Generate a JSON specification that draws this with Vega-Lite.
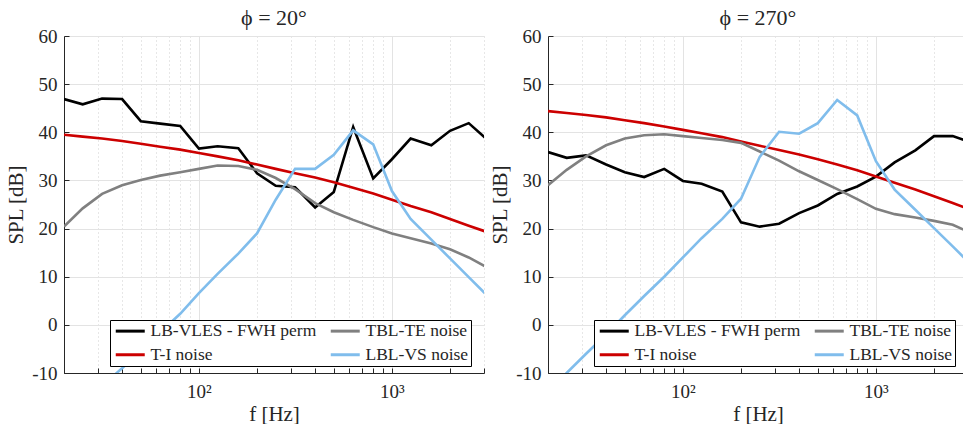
{
  "$schema": "https://vega.github.io/schema/vega-lite/v6.json",
  "background": "white",
  "padding": {"left": 5, "top": 7, "right": 0, "bottom": 0},
  "config": {
    "font": "Liberation Serif",
    "view": {"stroke": null},
    "concat": {"spacing": 64},
    "title": {"font": "Liberation Serif", "fontSize": 22, "fontWeight": "normal", "color": "#262626", "offset": -3, "frame": "group"},
    "axis": {
      "labelFont": "Liberation Serif", "labelFontSize": 19, "labelColor": "#262626",
      "titleFont": "Liberation Serif", "titleFontSize": 21, "titleFontWeight": "normal", "titleColor": "#262626",
      "domainColor": "#262626", "domainWidth": 1, "tickColor": "#262626", "tickSize": -5, "tickWidth": 1,
      "gridColor": "#e3e3e3", "gridWidth": 1
    },
    "legend": {
      "orient": "none", "legendX": 46, "legendY": 284, "columns": 2,
      "strokeColor": "#000000", "fillColor": "#ffffff", "padding": 2,
      "symbolType": "M-1,0H4.8", "symbolSize": 100, "symbolStrokeWidth": 3,
      "labelFont": "Liberation Serif", "labelFontSize": 17.5, "labelColor": "#262626", "labelLimit": 0,
      "labelOffset": 21, "rowPadding": 5, "columnPadding": 7, "title": null
    }
  },
  "datasets": {
    "d": [
      {"phi": 20, "s": "LB-VLES - FWH perm", "f": 20, "v": 46.9},
      {"phi": 20, "s": "LB-VLES - FWH perm", "f": 25, "v": 45.8},
      {"phi": 20, "s": "LB-VLES - FWH perm", "f": 31.5, "v": 47.0},
      {"phi": 20, "s": "LB-VLES - FWH perm", "f": 40, "v": 46.9},
      {"phi": 20, "s": "LB-VLES - FWH perm", "f": 50, "v": 42.3},
      {"phi": 20, "s": "LB-VLES - FWH perm", "f": 63, "v": 41.8},
      {"phi": 20, "s": "LB-VLES - FWH perm", "f": 80, "v": 41.3},
      {"phi": 20, "s": "LB-VLES - FWH perm", "f": 100, "v": 36.6},
      {"phi": 20, "s": "LB-VLES - FWH perm", "f": 125, "v": 37.1},
      {"phi": 20, "s": "LB-VLES - FWH perm", "f": 160, "v": 36.7},
      {"phi": 20, "s": "LB-VLES - FWH perm", "f": 200, "v": 31.5},
      {"phi": 20, "s": "LB-VLES - FWH perm", "f": 250, "v": 28.9},
      {"phi": 20, "s": "LB-VLES - FWH perm", "f": 315, "v": 28.6},
      {"phi": 20, "s": "LB-VLES - FWH perm", "f": 400, "v": 24.4},
      {"phi": 20, "s": "LB-VLES - FWH perm", "f": 500, "v": 27.6},
      {"phi": 20, "s": "LB-VLES - FWH perm", "f": 630, "v": 41.1},
      {"phi": 20, "s": "LB-VLES - FWH perm", "f": 800, "v": 30.4},
      {"phi": 20, "s": "LB-VLES - FWH perm", "f": 1000, "v": 34.4},
      {"phi": 20, "s": "LB-VLES - FWH perm", "f": 1250, "v": 38.7},
      {"phi": 20, "s": "LB-VLES - FWH perm", "f": 1600, "v": 37.3},
      {"phi": 20, "s": "LB-VLES - FWH perm", "f": 2000, "v": 40.3},
      {"phi": 20, "s": "LB-VLES - FWH perm", "f": 2500, "v": 41.9},
      {"phi": 20, "s": "LB-VLES - FWH perm", "f": 3150, "v": 38.3},
      {"phi": 20, "s": "T-I noise", "f": 20, "v": 39.5},
      {"phi": 20, "s": "T-I noise", "f": 25, "v": 39.1},
      {"phi": 20, "s": "T-I noise", "f": 31.5, "v": 38.7},
      {"phi": 20, "s": "T-I noise", "f": 40, "v": 38.2},
      {"phi": 20, "s": "T-I noise", "f": 50, "v": 37.6},
      {"phi": 20, "s": "T-I noise", "f": 63, "v": 37.0},
      {"phi": 20, "s": "T-I noise", "f": 80, "v": 36.4},
      {"phi": 20, "s": "T-I noise", "f": 100, "v": 35.7},
      {"phi": 20, "s": "T-I noise", "f": 125, "v": 35.0},
      {"phi": 20, "s": "T-I noise", "f": 160, "v": 34.2},
      {"phi": 20, "s": "T-I noise", "f": 200, "v": 33.3},
      {"phi": 20, "s": "T-I noise", "f": 250, "v": 32.4},
      {"phi": 20, "s": "T-I noise", "f": 315, "v": 31.5},
      {"phi": 20, "s": "T-I noise", "f": 400, "v": 30.6},
      {"phi": 20, "s": "T-I noise", "f": 500, "v": 29.6},
      {"phi": 20, "s": "T-I noise", "f": 630, "v": 28.5},
      {"phi": 20, "s": "T-I noise", "f": 800, "v": 27.3},
      {"phi": 20, "s": "T-I noise", "f": 1000, "v": 26.0},
      {"phi": 20, "s": "T-I noise", "f": 1250, "v": 24.7},
      {"phi": 20, "s": "T-I noise", "f": 1600, "v": 23.4},
      {"phi": 20, "s": "T-I noise", "f": 2000, "v": 22.0},
      {"phi": 20, "s": "T-I noise", "f": 2500, "v": 20.6},
      {"phi": 20, "s": "T-I noise", "f": 3150, "v": 19.2},
      {"phi": 20, "s": "TBL-TE noise", "f": 20, "v": 20.4},
      {"phi": 20, "s": "TBL-TE noise", "f": 25, "v": 24.2},
      {"phi": 20, "s": "TBL-TE noise", "f": 31.5, "v": 27.2},
      {"phi": 20, "s": "TBL-TE noise", "f": 40, "v": 29.0},
      {"phi": 20, "s": "TBL-TE noise", "f": 50, "v": 30.1},
      {"phi": 20, "s": "TBL-TE noise", "f": 63, "v": 31.0},
      {"phi": 20, "s": "TBL-TE noise", "f": 80, "v": 31.7},
      {"phi": 20, "s": "TBL-TE noise", "f": 100, "v": 32.4},
      {"phi": 20, "s": "TBL-TE noise", "f": 125, "v": 33.1},
      {"phi": 20, "s": "TBL-TE noise", "f": 160, "v": 33.0},
      {"phi": 20, "s": "TBL-TE noise", "f": 200, "v": 32.2},
      {"phi": 20, "s": "TBL-TE noise", "f": 250, "v": 30.5},
      {"phi": 20, "s": "TBL-TE noise", "f": 315, "v": 28.2},
      {"phi": 20, "s": "TBL-TE noise", "f": 400, "v": 25.3},
      {"phi": 20, "s": "TBL-TE noise", "f": 500, "v": 23.4},
      {"phi": 20, "s": "TBL-TE noise", "f": 630, "v": 21.8},
      {"phi": 20, "s": "TBL-TE noise", "f": 800, "v": 20.3},
      {"phi": 20, "s": "TBL-TE noise", "f": 1000, "v": 19.0},
      {"phi": 20, "s": "TBL-TE noise", "f": 1250, "v": 18.0},
      {"phi": 20, "s": "TBL-TE noise", "f": 1600, "v": 16.9},
      {"phi": 20, "s": "TBL-TE noise", "f": 2000, "v": 15.7},
      {"phi": 20, "s": "TBL-TE noise", "f": 2500, "v": 14.0},
      {"phi": 20, "s": "TBL-TE noise", "f": 3150, "v": 11.8},
      {"phi": 20, "s": "LBL-VS noise", "f": 20, "v": -20.0},
      {"phi": 20, "s": "LBL-VS noise", "f": 25, "v": -16.4},
      {"phi": 20, "s": "LBL-VS noise", "f": 31.5, "v": -12.7},
      {"phi": 20, "s": "LBL-VS noise", "f": 40, "v": -9.0},
      {"phi": 20, "s": "LBL-VS noise", "f": 50, "v": -5.3},
      {"phi": 20, "s": "LBL-VS noise", "f": 63, "v": -1.6},
      {"phi": 20, "s": "LBL-VS noise", "f": 80, "v": 2.3},
      {"phi": 20, "s": "LBL-VS noise", "f": 100, "v": 6.6},
      {"phi": 20, "s": "LBL-VS noise", "f": 125, "v": 10.6},
      {"phi": 20, "s": "LBL-VS noise", "f": 160, "v": 14.8},
      {"phi": 20, "s": "LBL-VS noise", "f": 200, "v": 19.0},
      {"phi": 20, "s": "LBL-VS noise", "f": 250, "v": 26.0},
      {"phi": 20, "s": "LBL-VS noise", "f": 315, "v": 32.4},
      {"phi": 20, "s": "LBL-VS noise", "f": 400, "v": 32.4},
      {"phi": 20, "s": "LBL-VS noise", "f": 500, "v": 35.3},
      {"phi": 20, "s": "LBL-VS noise", "f": 630, "v": 40.4},
      {"phi": 20, "s": "LBL-VS noise", "f": 800, "v": 37.5},
      {"phi": 20, "s": "LBL-VS noise", "f": 1000, "v": 27.8},
      {"phi": 20, "s": "LBL-VS noise", "f": 1250, "v": 22.0},
      {"phi": 20, "s": "LBL-VS noise", "f": 1600, "v": 17.7},
      {"phi": 20, "s": "LBL-VS noise", "f": 2000, "v": 13.8},
      {"phi": 20, "s": "LBL-VS noise", "f": 2500, "v": 9.9},
      {"phi": 20, "s": "LBL-VS noise", "f": 3150, "v": 5.9},
      {"phi": 270, "s": "LB-VLES - FWH perm", "f": 20, "v": 35.9},
      {"phi": 270, "s": "LB-VLES - FWH perm", "f": 25, "v": 34.7},
      {"phi": 270, "s": "LB-VLES - FWH perm", "f": 31.5, "v": 35.2},
      {"phi": 270, "s": "LB-VLES - FWH perm", "f": 40, "v": 33.3},
      {"phi": 270, "s": "LB-VLES - FWH perm", "f": 50, "v": 31.7},
      {"phi": 270, "s": "LB-VLES - FWH perm", "f": 63, "v": 30.7},
      {"phi": 270, "s": "LB-VLES - FWH perm", "f": 80, "v": 32.4},
      {"phi": 270, "s": "LB-VLES - FWH perm", "f": 100, "v": 29.9},
      {"phi": 270, "s": "LB-VLES - FWH perm", "f": 125, "v": 29.3},
      {"phi": 270, "s": "LB-VLES - FWH perm", "f": 160, "v": 27.7},
      {"phi": 270, "s": "LB-VLES - FWH perm", "f": 200, "v": 21.3},
      {"phi": 270, "s": "LB-VLES - FWH perm", "f": 250, "v": 20.4},
      {"phi": 270, "s": "LB-VLES - FWH perm", "f": 315, "v": 21.0},
      {"phi": 270, "s": "LB-VLES - FWH perm", "f": 400, "v": 23.2},
      {"phi": 270, "s": "LB-VLES - FWH perm", "f": 500, "v": 24.8},
      {"phi": 270, "s": "LB-VLES - FWH perm", "f": 630, "v": 27.2},
      {"phi": 270, "s": "LB-VLES - FWH perm", "f": 800, "v": 28.75},
      {"phi": 270, "s": "LB-VLES - FWH perm", "f": 1000, "v": 30.8},
      {"phi": 270, "s": "LB-VLES - FWH perm", "f": 1250, "v": 33.75},
      {"phi": 270, "s": "LB-VLES - FWH perm", "f": 1600, "v": 36.25},
      {"phi": 270, "s": "LB-VLES - FWH perm", "f": 2000, "v": 39.2},
      {"phi": 270, "s": "LB-VLES - FWH perm", "f": 2500, "v": 39.2},
      {"phi": 270, "s": "LB-VLES - FWH perm", "f": 3150, "v": 37.8},
      {"phi": 270, "s": "T-I noise", "f": 20, "v": 44.4},
      {"phi": 270, "s": "T-I noise", "f": 25, "v": 44.0},
      {"phi": 270, "s": "T-I noise", "f": 31.5, "v": 43.6},
      {"phi": 270, "s": "T-I noise", "f": 40, "v": 43.1},
      {"phi": 270, "s": "T-I noise", "f": 50, "v": 42.5},
      {"phi": 270, "s": "T-I noise", "f": 63, "v": 41.9},
      {"phi": 270, "s": "T-I noise", "f": 80, "v": 41.2},
      {"phi": 270, "s": "T-I noise", "f": 100, "v": 40.5},
      {"phi": 270, "s": "T-I noise", "f": 125, "v": 39.8},
      {"phi": 270, "s": "T-I noise", "f": 160, "v": 39.0},
      {"phi": 270, "s": "T-I noise", "f": 200, "v": 38.1},
      {"phi": 270, "s": "T-I noise", "f": 250, "v": 37.2},
      {"phi": 270, "s": "T-I noise", "f": 315, "v": 36.3},
      {"phi": 270, "s": "T-I noise", "f": 400, "v": 35.4},
      {"phi": 270, "s": "T-I noise", "f": 500, "v": 34.4},
      {"phi": 270, "s": "T-I noise", "f": 630, "v": 33.3},
      {"phi": 270, "s": "T-I noise", "f": 800, "v": 32.1},
      {"phi": 270, "s": "T-I noise", "f": 1000, "v": 30.8},
      {"phi": 270, "s": "T-I noise", "f": 1250, "v": 29.5},
      {"phi": 270, "s": "T-I noise", "f": 1600, "v": 28.1},
      {"phi": 270, "s": "T-I noise", "f": 2000, "v": 26.7},
      {"phi": 270, "s": "T-I noise", "f": 2500, "v": 25.3},
      {"phi": 270, "s": "T-I noise", "f": 3150, "v": 23.8},
      {"phi": 270, "s": "TBL-TE noise", "f": 20, "v": 29.0},
      {"phi": 270, "s": "TBL-TE noise", "f": 25, "v": 32.2},
      {"phi": 270, "s": "TBL-TE noise", "f": 31.5, "v": 35.0},
      {"phi": 270, "s": "TBL-TE noise", "f": 40, "v": 37.3},
      {"phi": 270, "s": "TBL-TE noise", "f": 50, "v": 38.7},
      {"phi": 270, "s": "TBL-TE noise", "f": 63, "v": 39.4},
      {"phi": 270, "s": "TBL-TE noise", "f": 80, "v": 39.6},
      {"phi": 270, "s": "TBL-TE noise", "f": 100, "v": 39.2},
      {"phi": 270, "s": "TBL-TE noise", "f": 125, "v": 38.8},
      {"phi": 270, "s": "TBL-TE noise", "f": 160, "v": 38.4},
      {"phi": 270, "s": "TBL-TE noise", "f": 200, "v": 37.8},
      {"phi": 270, "s": "TBL-TE noise", "f": 250, "v": 36.0},
      {"phi": 270, "s": "TBL-TE noise", "f": 315, "v": 34.1},
      {"phi": 270, "s": "TBL-TE noise", "f": 400, "v": 31.9},
      {"phi": 270, "s": "TBL-TE noise", "f": 500, "v": 30.1},
      {"phi": 270, "s": "TBL-TE noise", "f": 630, "v": 28.2},
      {"phi": 270, "s": "TBL-TE noise", "f": 800, "v": 26.1},
      {"phi": 270, "s": "TBL-TE noise", "f": 1000, "v": 24.1},
      {"phi": 270, "s": "TBL-TE noise", "f": 1250, "v": 23.0},
      {"phi": 270, "s": "TBL-TE noise", "f": 1600, "v": 22.3},
      {"phi": 270, "s": "TBL-TE noise", "f": 2000, "v": 21.6},
      {"phi": 270, "s": "TBL-TE noise", "f": 2500, "v": 20.8},
      {"phi": 270, "s": "TBL-TE noise", "f": 3150, "v": 19.0},
      {"phi": 270, "s": "LBL-VS noise", "f": 20, "v": -14.0},
      {"phi": 270, "s": "LBL-VS noise", "f": 25, "v": -10.0},
      {"phi": 270, "s": "LBL-VS noise", "f": 31.5, "v": -6.0},
      {"phi": 270, "s": "LBL-VS noise", "f": 40, "v": -2.0},
      {"phi": 270, "s": "LBL-VS noise", "f": 50, "v": 2.0},
      {"phi": 270, "s": "LBL-VS noise", "f": 63, "v": 6.0},
      {"phi": 270, "s": "LBL-VS noise", "f": 80, "v": 10.0},
      {"phi": 270, "s": "LBL-VS noise", "f": 100, "v": 14.0},
      {"phi": 270, "s": "LBL-VS noise", "f": 125, "v": 18.0},
      {"phi": 270, "s": "LBL-VS noise", "f": 160, "v": 22.0},
      {"phi": 270, "s": "LBL-VS noise", "f": 200, "v": 26.2},
      {"phi": 270, "s": "LBL-VS noise", "f": 250, "v": 34.9},
      {"phi": 270, "s": "LBL-VS noise", "f": 315, "v": 40.1},
      {"phi": 270, "s": "LBL-VS noise", "f": 400, "v": 39.7},
      {"phi": 270, "s": "LBL-VS noise", "f": 500, "v": 41.9},
      {"phi": 270, "s": "LBL-VS noise", "f": 630, "v": 46.7},
      {"phi": 270, "s": "LBL-VS noise", "f": 800, "v": 43.5},
      {"phi": 270, "s": "LBL-VS noise", "f": 1000, "v": 34.0},
      {"phi": 270, "s": "LBL-VS noise", "f": 1250, "v": 28.1},
      {"phi": 270, "s": "LBL-VS noise", "f": 1600, "v": 23.9},
      {"phi": 270, "s": "LBL-VS noise", "f": 2000, "v": 20.1},
      {"phi": 270, "s": "LBL-VS noise", "f": 2500, "v": 16.3},
      {"phi": 270, "s": "LBL-VS noise", "f": 3150, "v": 12.3}
    ]
  },
  "bounds": "flush",
  "resolve": {"scale": {"color": "independent"}, "legend": {"color": "independent"}},
  "hconcat": [
    {
      "width": 420, "height": 337,
      "title": "ϕ = 20°",
      "data": {"name": "d"},
      "transform": [{"filter": "datum.phi == 20"}],
      "mark": {"type": "line", "strokeWidth": 2.6, "clip": true},
      "encoding": {
        "x": {"field": "f", "type": "quantitative", "title": "f  [Hz]",
          "scale": {"type": "log", "domain": [20, 3000], "nice": false},
          "axis": {"values": [20,30,40,50,60,70,80,90,100,200,300,400,500,600,700,800,900,1000,2000,3000],
            "labelExpr": "datum.value == 100 ? '10²' : (datum.value == 1000 ? '10³' : '')",
            "gridDash": {"condition": {"test": "datum.value == 100 || datum.value == 1000", "value": []}, "value": [1, 3]},
            "gridColor": {"condition": {"test": "datum.value == 100 || datum.value == 1000", "value": "#e3e3e3"}, "value": "#cfcfcf"},
            "labelPadding": 14, "titlePadding": 2, "labelFlush": false, "labelOverlap": false}},
        "y": {"field": "v", "type": "quantitative", "title": "SPL [dB]",
          "scale": {"domain": [-10, 60], "nice": false},
          "axis": {"values": [-10,0,10,20,30,40,50,60], "labelExpr": "'' + datum.value", "labelPadding": 12, "titlePadding": 5}},
        "color": {"field": "s", "type": "nominal",
          "scale": {"domain": ["LB-VLES - FWH perm", "T-I noise", "TBL-TE noise", "LBL-VS noise"],
            "range": ["#000000", "#cc0000", "#808080", "#80bdec"]}}
      }
    },
    {
      "width": 420, "height": 337,
      "title": "ϕ = 270°",
      "data": {"name": "d"},
      "transform": [{"filter": "datum.phi == 270"}],
      "mark": {"type": "line", "strokeWidth": 2.6, "clip": true},
      "encoding": {
        "x": {"field": "f", "type": "quantitative", "title": "f  [Hz]",
          "scale": {"type": "log", "domain": [20, 3000], "nice": false},
          "axis": {"values": [20,30,40,50,60,70,80,90,100,200,300,400,500,600,700,800,900,1000,2000,3000],
            "labelExpr": "datum.value == 100 ? '10²' : (datum.value == 1000 ? '10³' : '')",
            "gridDash": {"condition": {"test": "datum.value == 100 || datum.value == 1000", "value": []}, "value": [1, 3]},
            "gridColor": {"condition": {"test": "datum.value == 100 || datum.value == 1000", "value": "#e3e3e3"}, "value": "#cfcfcf"},
            "labelPadding": 14, "titlePadding": 2, "labelFlush": false, "labelOverlap": false}},
        "y": {"field": "v", "type": "quantitative", "title": "SPL [dB]",
          "scale": {"domain": [-10, 60], "nice": false},
          "axis": {"values": [-10,0,10,20,30,40,50,60], "labelExpr": "'' + datum.value", "labelPadding": 12, "titlePadding": 5}},
        "color": {"field": "s", "type": "nominal",
          "scale": {"domain": ["LB-VLES - FWH perm", "T-I noise", "TBL-TE noise", "LBL-VS noise"],
            "range": ["#000000", "#cc0000", "#808080", "#80bdec"]}}
      }
    }
  ]
}
